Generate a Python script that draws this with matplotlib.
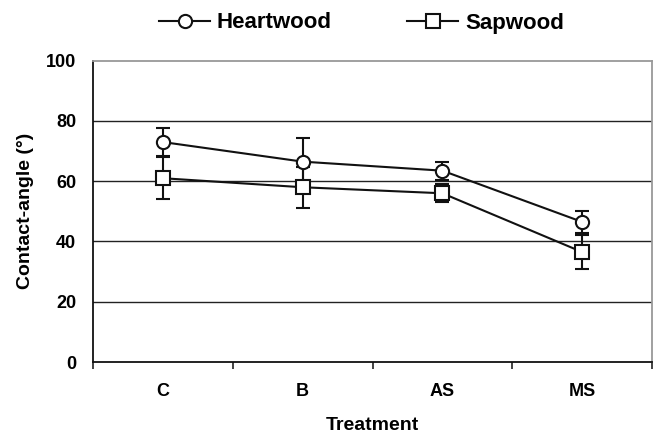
import matplotlib
matplotlib.use("Agg")
import matplotlib.pyplot as plt

plt.rcParams['font.family'] = ['Liberation Sans', 'DejaVu Sans']
plt.rcParams['font.weight'] = 'bold'

treatments = ["C", "B", "AS", "MS"]
heartwood = [73.0, 66.5, 63.5, 46.5]
heartwood_err = [4.7, 8.0, 3.0, 3.7]
sapwood = [61.0, 58.0, 56.0, 36.5]
sapwood_err = [7.0, 6.8, 3.0, 5.7]
y_ticks = [0, 20, 40, 60, 80, 100]

fig = plt.figure(figsize=(6.54, 4.38), dpi=100)
ax = fig.add_axes([0.1422, 0.1735, 0.997 - 0.1422, 0.8614 - 0.1735])

x = list(range(len(treatments)))

for vals, errs, mk, lab in [(heartwood, heartwood_err, 'o', 'Heartwood'),
                             (sapwood, sapwood_err, 's', 'Sapwood')]:
    ax.errorbar(x, vals, yerr=errs, fmt='none', ecolor='#111111',
                elinewidth=1.5, capsize=5, capthick=1.5, zorder=3)
    ax.plot(x, vals, color='#111111', lw=1.5, marker=mk, ms=9.5,
            mfc='white', mec='#111111', mew=1.5, zorder=4, label=lab)

ax.set_xlim(-0.5, len(treatments) - 0.5)
ax.set_ylim(0, 100)
ax.set_yticks(y_ticks)
ax.set_yticklabels([str(v) for v in y_ticks])
ax.set_xticks(x)
ax.set_xticklabels(treatments)
ax.set_xticks([i - 0.5 for i in range(len(treatments) + 1)], minor=True)

for v in y_ticks[1:-1]:
    ax.axhline(v, color='#222222', lw=1.0, zorder=1)

ax.tick_params(axis='x', which='major', length=0, pad=15, labelsize=13)
ax.tick_params(axis='x', which='minor', length=5, width=1.2, direction='out', color='#222222')
ax.tick_params(axis='y', length=0, pad=12, labelsize=13)

for s in ['left', 'bottom']:
    ax.spines[s].set_color('#111111')
    ax.spines[s].set_linewidth(1.3)
for s in ['top', 'right']:
    ax.spines[s].set_color('#999999')
    ax.spines[s].set_linewidth(1.3)

ax.set_xlabel('Treatment', fontsize=14, fontweight='bold', labelpad=12)
ax.set_ylabel('Contact-angle (°)', fontsize=14, fontweight='bold', labelpad=9)

fig.legend(loc='center', bbox_to_anchor=(361.5 / 654, 1 - 23 / 438), ncol=2,
           frameon=False, handlelength=2.3, handletextpad=0.3,
           columnspacing=3.4, prop={'weight': 'bold', 'size': 16})

fig.savefig('out.png', dpi=100)
